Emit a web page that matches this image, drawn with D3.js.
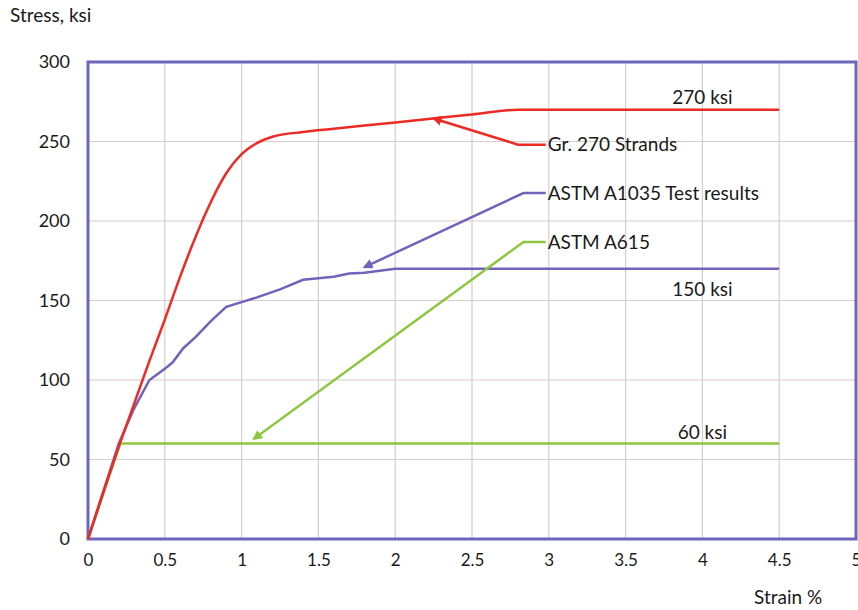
<!DOCTYPE html>
<html>
<head>
<meta charset="utf-8">
<script src="https://cdn.jsdelivr.net/npm/d3@7"></script>
<style>
  body { margin: 0; background: #fff; }
  svg text { font-family: Lato, "Open Sans", sans-serif; fill: #1a1a1a; }
</style>
</head>
<body>
<svg id="chart"></svg>
<script>
// Chart size
let width = 858
let height = 610

// Data (strain %, stress ksi)
let strands270 = [[0,0],[0.2,58],[0.3,85],[0.4,112],[0.5,138],[0.6,165],[0.7,190],[0.8,212],[0.9,230],
                  [1.0,242],[1.1,249],[1.2,253],[1.4,256],[1.6,258],[1.8,260],[2.0,262],[2.2,264],
                  [2.5,267],[2.8,270],[4.5,270]]
let a1035 = [[0,0],[0.2,60],[0.3,82],[0.4,100],[0.5,107],[0.55,111],[0.62,120],[0.7,127],[0.8,137],
             [0.9,146],[1.0,149],[1.1,152],[1.25,157],[1.4,163],[1.6,165],[1.7,167],[1.8,167.5],
             [2.0,170],[4.5,170]]
let a615 = [[0,0],[0.21,60],[4.5,60]]

let xTicks = [0, 0.5, 1, 1.5, 2, 2.5, 3, 3.5, 4, 4.5, 5]
let yTicks = [0, 50, 100, 150, 200, 250, 300]

// Callout labels: text, label anchor (strain, stress), elbow, arrow tip
let calloutNames = ['Gr. 270 Strands', 'ASTM A1035 Test results', 'ASTM A615']
let calloutLabelAt = [[2.98,248],[2.98,217.6],[2.98,186.8]]
let calloutElbow = [[2.8,248],[2.835,217.6],[2.835,186.8]]
let calloutTip = [[2.25,264.5],[1.8,171],[1.08,63]]

// Level labels
let levelNames = ['270 ksi', '150 ksi', '60 ksi']
let levelAt = [[4.0,278],[4.0,157],[4.0,67]]

let colors = { red: '#ee2a24', purple: '#7262bb', green: '#8dc63f' }
let seriesColors = [colors.red, colors.purple, colors.green]

let svg = d3.select('#chart').attr('width', width).attr('height', height)

let xScale = d3.scaleLinear().domain([0, 5]).range([88, 856])
let yScale = d3.scaleLinear().domain([0, 300]).range([539, 62])

// Gridlines
svg.append('g')
    .selectAll('line')
    .data(xTicks.slice(1, -1))
    .enter().append('line')
    .attr('x1', d => xScale(d)).attr('x2', d => xScale(d))
    .attr('y1', yScale(0)).attr('y2', yScale(300))
    .attr('stroke', '#d8cccc').attr('stroke-width', 1.2)

svg.append('g')
    .selectAll('line')
    .data(yTicks.slice(1, -1))
    .enter().append('line')
    .attr('x1', xScale(0)).attr('x2', xScale(5))
    .attr('y1', d => yScale(d)).attr('y2', d => yScale(d))
    .attr('stroke', '#d8cccc').attr('stroke-width', 1.2)

// Axes (labels only, border drawn separately)
let xAxis = d3.axisBottom(xScale).tickValues(xTicks).tickSize(0).tickPadding(15)
    .tickFormat(d => d)
svg.append('g')
    .attr('transform', 'translate(0,' + yScale(0) + ')')
    .call(xAxis)
    .call(g => g.select('.domain').remove())
    .selectAll('text').style('font-size', '17px').style('font-family', 'Lato, sans-serif').attr('fill', '#1a1a1a')

let yAxis = d3.axisLeft(yScale).tickValues(yTicks).tickSize(0).tickPadding(18)
svg.append('g')
    .attr('transform', 'translate(' + xScale(0) + ',0)')
    .call(yAxis)
    .call(g => g.select('.domain').remove())
    .selectAll('text').style('font-size', '18px').style('font-family', 'Lato, sans-serif').attr('fill', '#1a1a1a')

// Plot border
svg.append('rect')
    .attr('x', xScale(0)).attr('y', yScale(300))
    .attr('width', xScale(5) - xScale(0)).attr('height', yScale(0) - yScale(300))
    .attr('fill', 'none').attr('stroke', '#6c66bb').attr('stroke-width', 3)

// Series lines
let line = d3.line().x(d => xScale(d[0])).y(d => yScale(d[1]))
let smooth = d3.line().x(d => xScale(d[0])).y(d => yScale(d[1])).curve(d3.curveMonotoneX)

svg.append('path').datum(a615).attr('d', line)
    .attr('fill', 'none').attr('stroke', colors.green).attr('stroke-width', 2.5)
svg.append('path').datum(a1035).attr('d', line)
    .attr('fill', 'none').attr('stroke', colors.purple).attr('stroke-width', 2.5)
svg.append('path').datum(strands270).attr('d', smooth)
    .attr('fill', 'none').attr('stroke', colors.red).attr('stroke-width', 2.5)

// Arrow markers
let defs = svg.append('defs')
seriesColors.forEach((c, i) => {
    defs.append('marker')
        .attr('id', 'arrow' + i)
        .attr('viewBox', '0 0 10 10')
        .attr('refX', 8).attr('refY', 5)
        .attr('markerWidth', 4).attr('markerHeight', 4)
        .attr('orient', 'auto')
        .append('path').attr('d', 'M0,0 L10,5 L0,10 z').attr('fill', c)
})

// Callout leader lines
calloutNames.forEach((name, i) => {
    svg.append('path')
        .datum([calloutLabelAt[i], calloutElbow[i], calloutTip[i]])
        .attr('d', line)
        .attr('fill', 'none')
        .attr('stroke', seriesColors[i])
        .attr('stroke-width', 2.5)
        .attr('marker-end', 'url(#arrow' + i + ')')

    svg.append('text')
        .attr('x', xScale(calloutLabelAt[i][0]) + 2)
        .attr('y', yScale(calloutLabelAt[i][1]))
        .attr('dy', '0.35em')
        .style('font-size', '19px')
        .text(name)
})

// Level labels
levelNames.forEach((name, i) => {
    svg.append('text')
        .attr('x', xScale(levelAt[i][0]))
        .attr('y', yScale(levelAt[i][1]))
        .attr('dy', '0.35em')
        .attr('text-anchor', 'middle')
        .style('font-size', '19px')
        .text(name)
})

// Axis titles
svg.append('text').attr('x', 10).attr('y', 22).style('font-size', '19px').text('Stress, ksi')
svg.append('text').attr('x', 754).attr('y', 604).style('font-size', '19px').text('Strain %')
</script>
</body>
</html>
